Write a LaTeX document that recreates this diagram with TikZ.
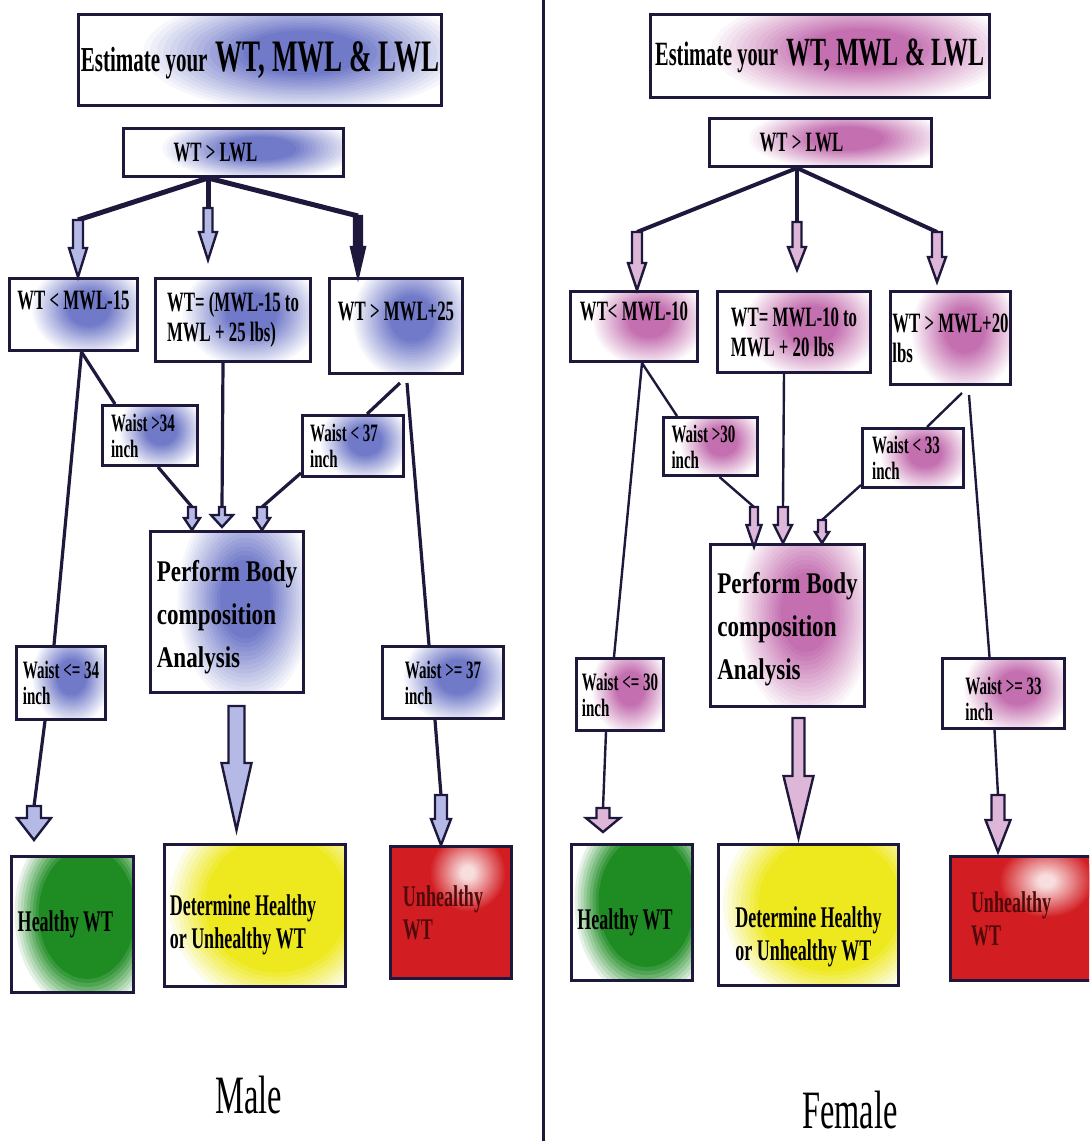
\documentclass[tikz,border=0pt]{standalone}
\usepackage{fontspec}
\setmainfont{Liberation Serif}[FakeStretch=0.6]
\newfontfamily\perffont{Liberation Serif}[FakeStretch=0.77]
\usetikzlibrary{calc}

\definecolor{navy}{RGB}{30,25,60}
\definecolor{mblue}{RGB}{112,122,200}
\definecolor{mlight}{RGB}{180,185,230}
\definecolor{fpink}{RGB}{196,112,176}
\definecolor{flight}{RGB}{222,182,216}
\definecolor{hgreen}{RGB}{30,140,35}
\definecolor{dyellow}{RGB}{238,232,30}
\definecolor{ured}{RGB}{210,30,35}
\definecolor{maroon}{RGB}{80,10,10}

\newcommand{\sizeat}[2]{\fontsize{#1}{#2}\selectfont}
\newcommand{\textlift}[1]{\rule[-#1]{0pt}{0pt}}
\newcommand{\textdrop}[1]{\rule{0pt}{#1}}
% hollow arrow pointing down: fill, top, length, shaft, head width, head length
\newcommand{\hollowdown}[6]{%
  \filldraw[blockarrow=#1] (#2) ++(-#4,0) -- ++(0,{#3-#6}) -- ++({#4-#5},0)
    -- ++(#5,#6) -- ++(#5,-#6) -- ++({#4-#5},0) -- ++(0,{#6-#3}) -- cycle;}

\tikzset{
  box/.style={draw=navy, line width=1.5pt, fill=white, anchor=north west,
    inner sep=0pt, align=left, font=\bfseries\sizeat{14}{15}},
  sz/.style 2 args={minimum width=#1*0.5pt, minimum height=#2*0.5pt},
  % soft colour patch: colour, steps to full colour, x radius, y radius
  glow/.style n args={4}{path picture={%
    \foreach \k in {0,...,24}{%
      \pgfmathsetmacro{\pct}{min(100,\k*100/#2)}%
      \fill[#1!\pct!white] let \p1=(path picture bounding box.south west),
        \p2=(path picture bounding box.north east) in
        ({\x1+0.62*(\x2-\x1)},{\y1+0.58*(\y2-\y1)})
        ellipse ({(1-\k/25)*#3*(\x2-\x1)} and {(1-\k/25)*#4*(\y2-\y1)});
    }}},
  mbox/.style={box, glow={mblue}{16}{0.46}{0.68}},
  fbox/.style={box, glow={fpink}{16}{0.46}{0.68}},
  waist/.style={font=\bfseries\sizeat{12.5}{13}},
  perf/.style={font=\perffont\bfseries\sizeat{15}{21.5}},
  result/.style={box, font=\bfseries\sizeat{15}{16.5}},
  greenbox/.style={result, glow={hgreen}{9}{0.62}{0.75}},
  yellowbox/.style={result, glow={dyellow}{9}{0.62}{0.75}},
  redbox/.style={result, fill=ured, text=maroon, path picture={%
    \foreach \k in {0,...,24}{%
      \pgfmathsetmacro{\pct}{min(85,\k*100/24)}%
      \fill[white!\pct!ured] let \p1=(path picture bounding box.south west),
        \p2=(path picture bounding box.north east) in
        ({\x1+0.64*(\x2-\x1)},{\y1+0.8*(\y2-\y1)})
        ellipse ({(1-\k/25)*0.32*(\x2-\x1)} and {(1-\k/25)*0.3*(\y2-\y1)});
    }}},
  blockarrow/.style={draw=navy, line width=1.2pt, fill=#1},
  conn/.style={draw=navy, line width=1.6pt},
  fconn/.style={draw=navy, line width=1.2pt},
  branch/.style={line width=2.5pt},
  fbranch/.style={line width=2pt},
  divider/.style={draw=navy, line width=1.5pt},
  sexlabel/.style={font=\sizeat{27}{30}, inner sep=0pt}
}

\begin{document}
\begin{tikzpicture}[x=0.5pt, y=-0.5pt]
  \useasboundingbox (0,0) rectangle (1089,1141);
  \clip (0,0) rectangle (1089,1141);

  \draw[divider] (543,0) -- (543,1141);

  % male
  \node[mbox, sz={363}{91}] (mtitle) at (77,13)
    {{\sizeat{17.5}{20}Estimate your}\hspace{4pt}{\sizeat{22.5}{26}WT, MWL \& LWL}};
  \node[mbox, sz={220}{48}] (mroot) at (122,127) {WT > LWL\hspace*{18pt}};
  \node[mbox, sz={128}{72}] (m2a) at (8,277) {WT < MWL-15\textlift{14pt}};
  \node[mbox, sz={155}{83}] (m2b) at (154,277) {WT= (MWL-15 to\\MWL + 25 lbs)};
  \node[mbox, sz={133}{95}] (m2c) at (328,277) {WT > MWL+25\textlift{14.5pt}};
  \node[mbox, waist, sz={95}{60}] (mw1) at (101,404) {Waist >34\hspace*{7pt}\\inch};
  \node[mbox, waist, sz={101}{61}] (mw2) at (301,414) {Waist < 37\hspace*{9pt}\\inch};
  \node[mbox, perf, sz={153}{161}] (mperf) at (149,530)
    {\textdrop{16pt}Perform Body\\composition\\Analysis};
  \node[mbox, waist, sz={89}{73}] (mw3) at (15,645) {Waist <= 34\\inch};
  \node[mbox, waist, sz={121}{72}] (mw4) at (381,645) {Waist >= 37\\inch};
  \node[greenbox, sz={122}{136}] (mhealthy) at (10,855) {Healthy WT\hspace*{7pt}};
  \node[yellowbox, sz={181}{142}] (mdet) at (163,843)
    {\textdrop{20pt}Determine Healthy\hspace*{12pt}\\or Unhealthy WT};
  \node[redbox, sz={121}{132}] (munhealthy) at (389,845) {Unhealthy\hspace*{8pt}\\WT};

  \coordinate (ma1) at (78,220);
  \coordinate (ma2) at (208,208);
  \coordinate (ma3) at (358,216);
  \draw[conn, branch] (mroot.south -| ma2) -- (ma1);
  \draw[conn, branch] (mroot.south -| ma2) -- (ma2);
  \draw[conn, branch] (mroot.south -| ma2) -- (ma3);
  \hollowdown{mlight}{ma1}{57}{5}{9}{29}
  \hollowdown{mlight}{ma2}{52}{4.5}{9}{28}
  \hollowdown{navy}{ma3}{61}{4}{7}{30}

  \coordinate (ma4) at (34,806);
  \coordinate (ma5) at (192,507);
  \coordinate (ma6) at (222,507);
  \coordinate (ma7) at (262,507);
  \coordinate (ma8) at (441,795);
  \coordinate (ma9) at ([xshift=4.75pt,yshift=-6pt]mperf.south);
  \coordinate (m2cl) at (400,383);
  \coordinate (m2cr) at (407,383);
  \draw[conn] ([xshift=4pt]m2a.south) -- ([xshift=7pt]mw1.north west);
  \draw[conn] ([xshift=4pt]m2a.south) -- ([xshift=-3.5pt]mw3.north);
  \draw[conn] ([xshift=-8pt]mw3.south) -- (ma4);
  \draw[conn] ([xshift=4pt]mw1.south) -- (ma5);
  \draw[conn] ([xshift=-5pt]m2b.south) -- (ma6);
  \draw[conn] (m2cl) -- ([xshift=7pt]mw2.north);
  \draw[conn] (m2cr) -- ([xshift=-7pt]mw4.north);
  \draw[conn] ([yshift=2.5pt]mw2.south west) -- (ma7);
  \draw[conn] ([xshift=-4pt]mw4.south) -- (ma8);
  \hollowdown{mlight}{ma4}{34}{7}{17}{22}
  \hollowdown{mlight}{ma5}{23}{4}{8}{12}
  \hollowdown{mlight}{ma6}{20}{3}{11}{12}
  \hollowdown{mlight}{ma7}{23}{5}{8}{12}
  \hollowdown{mlight}{ma8}{50}{6}{10}{26}
  \hollowdown{mlight}{ma9}{124}{8}{15}{67}

  \node[sexlabel] (male) at (249,1095) {Male};

  % female
  \node[fbox, sz={339}{83}] (ftitle) at (649,13)
    {{\sizeat{17}{20}Estimate your}\hspace{4pt}{\sizeat{20}{24}WT, MWL \& LWL}};
  \node[fbox, sz={222}{48}] (froot) at (708,117) {WT > LWL\hspace*{19pt}};
  \node[fbox, sz={127}{70}] (f2a) at (569,290) {WT< MWL-10\textlift{15pt}};
  \node[fbox, sz={153}{81}] (f2b) at (716,290) {WT= MWL-10 to\\MWL + 20 lbs};
  \node[fbox, sz={120}{93}] (f2c) at (889,290) {WT > MWL+20\\lbs};
  \node[fbox, waist, sz={94}{58}] (fw1) at (662,416) {Waist >30\hspace*{7pt}\\inch};
  \node[fbox, waist, sz={101}{59}] (fw2) at (861,427) {Waist < 33\hspace*{7pt}\\inch};
  \node[fbox, perf, sz={154}{162}] (fperf) at (709,543)
    {\textdrop{14pt}Perform Body\\composition\\Analysis};
  \node[fbox, waist, sz={87}{72}] (fw3) at (575,657) {Waist <= 30\\inch};
  \node[fbox, waist, sz={122}{70}] (fw4) at (941,657) {\textdrop{14pt}Waist >= 33\\inch};
  \node[greenbox, sz={121}{136}] (fhealthy) at (570,843) {\textdrop{20pt}Healthy WT\hspace*{7pt}};
  \node[yellowbox, sz={180}{141}] (fdet) at (717,843)
    {\textdrop{32pt}Determine Healthy\\or Unhealthy WT};
  \node[redbox, sz={150}{124}] (funhealthy) at (949,855) {Unhealthy\hspace*{14.5pt}\\WT};

  \coordinate (fa1) at (637,232);
  \coordinate (fa2) at (797,222);
  \coordinate (fa3) at (937,232);
  \draw[fconn, fbranch] (froot.south -| fa2) -- (fa1);
  \draw[fconn, fbranch] (froot.south -| fa2) -- (fa2);
  \draw[fconn, fbranch] (froot.south -| fa2) -- (fa3);
  \hollowdown{flight}{fa1}{58}{5}{9}{27}
  \hollowdown{flight}{fa2}{48}{4.5}{9}{23}
  \hollowdown{flight}{fa3}{50}{5}{9}{25}

  \coordinate (fa4) at (603,808);
  \coordinate (fa5) at (754,507);
  \coordinate (fa6) at (783,507);
  \coordinate (fa7) at (822,520);
  \coordinate (fa8) at (998,795);
  \coordinate (fa9) at ([xshift=5.5pt,yshift=-5pt]fperf.south);
  \coordinate (f2cl) at (962,393);
  \coordinate (f2cr) at (969,395);
  \draw[fconn] ([xshift=4pt]f2a.south) -- ([xshift=7.5pt]fw1.north west);
  \draw[fconn] ([xshift=4pt]f2a.south) -- ([xshift=-3pt]fw3.north);
  \draw[fconn] ([xshift=-7pt]fw3.south) -- (fa4);
  \draw[fconn] ([xshift=4.5pt]fw1.south) -- (fa5);
  \draw[fconn] ([xshift=-5pt]f2b.south) -- (fa6);
  \draw[fconn] (f2cl) -- ([xshift=7pt]fw2.north);
  \draw[fconn] (f2cr) -- ([xshift=-7pt]fw4.north);
  \draw[fconn] ([yshift=2pt]fw2.south west) -- (fa7);
  \draw[fconn] ([xshift=-4.5pt]fw4.south) -- (fa8);
  \hollowdown{flight}{fa4}{24}{6.5}{17}{14}
  \hollowdown{flight}{fa5}{40}{4}{7.5}{22}
  \hollowdown{flight}{fa6}{36}{5}{9}{18}
  \hollowdown{flight}{fa7}{23}{4}{7}{11}
  \hollowdown{flight}{fa8}{57}{6.5}{12.5}{32}
  \hollowdown{flight}{fa9}{120}{6}{15}{62}

  \node[sexlabel] (female) at (850,1110) {Female};
\end{tikzpicture}
\end{document}
